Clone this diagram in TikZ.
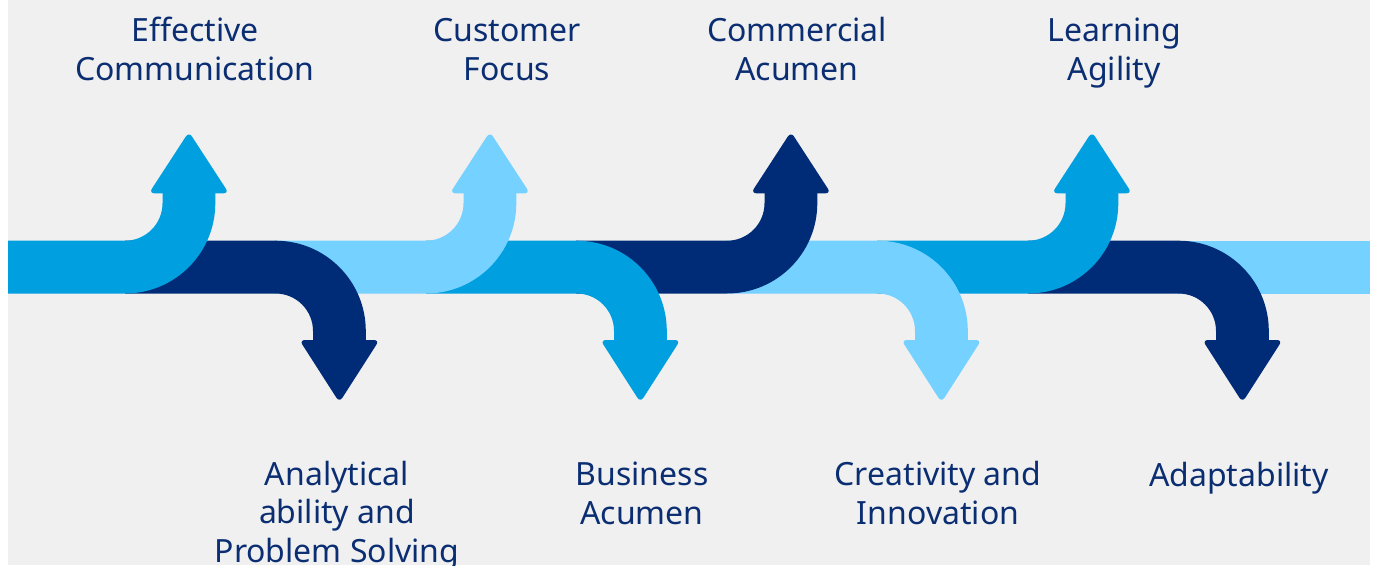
\documentclass[tikz,border=0pt]{standalone}
\usepackage{fontspec}
\setmainfont{Noto Sans}

\definecolor{navy}{HTML}{002C77}
\definecolor{midblue}{HTML}{009FE0}
\definecolor{skyblue}{HTML}{75D1FF}
\definecolor{panel}{HTML}{F0F0F0}
\definecolor{labelc}{HTML}{0B2E73}

% band edges and bend radii (pixel units, y grows downward)
\def\bandtop{240.7}
\def\bandbot{293.5}
\def\rin{37.5}
\def\rout{90.3}

% a band piece that bends upward into an arrow: colour, start x, bend x
\newcommand\upturn[3]{%
  \pgfmathsetmacro\xa{#3+\rin}%
  \pgfmathsetmacro\xb{#3+\rout}%
  \pgfmathsetmacro\xm{#3+63.9}%
  \pgfmathsetmacro\hl{#3+23.9}%
  \pgfmathsetmacro\hr{#3+103.9}%
  \fill[#1] (#2,\bandbot) -- (#2,\bandtop) -- (#3,\bandtop)
    arc[start angle=90,end angle=0,radius=\rin] -- (\xa,190) -- (\xb,190)
    -- (\xb,203.2) arc[start angle=0,end angle=90,radius=\rout] -- cycle;
  \fill[#1,rounded corners=5.5pt] (\hl,193.3) -- (\xm,131.8) -- (\hr,193.3) -- cycle;
}

% a band piece that bends downward into an arrow: colour, start x, bend x
\newcommand\downturn[3]{%
  \pgfmathsetmacro\xa{#3+\rin}%
  \pgfmathsetmacro\xb{#3+\rout}%
  \pgfmathsetmacro\xm{#3+63.9}%
  \pgfmathsetmacro\hl{#3+23.9}%
  \pgfmathsetmacro\hr{#3+103.9}%
  \fill[#1] (#2,\bandtop) -- (#3,\bandtop)
    arc[start angle=270,end angle=360,radius=\rout] -- (\xb,343) -- (\xa,343)
    -- (\xa,331) arc[start angle=0,end angle=-90,radius=\rin] -- (#2,\bandbot) -- cycle;
  \fill[#1,rounded corners=5.5pt] (\hl,340) -- (\xm,402.4) -- (\hr,340) -- cycle;
}

% labels are placed by the baseline of their last line
\tikzset{
  lbl/.style={text=labelc, align=center, anchor=base, inner sep=0pt,
    font=\fontsize{32}{38.5}\selectfont}
}

\begin{document}
\begin{tikzpicture}[x=1pt,y=-1pt]
  \useasboundingbox (0,0) rectangle (1375,565);
  \fill[white] (0,0) rectangle (1375,565);
  \fill[panel] (8,0) rectangle (1370,565);

  % pieces drawn right to left so each one lies over the next
  \fill[skyblue] (1178,\bandtop) rectangle (1370,\bandbot);
  \downturn{navy}{1028}{1178.5}
  \upturn{midblue}{877}{1028}
  \downturn{skyblue}{727}{877.5}
  \upturn{navy}{576}{727}
  \downturn{midblue}{426}{576.5}
  \upturn{skyblue}{275}{426}
  \downturn{navy}{125}{275.5}
  \upturn{midblue}{8}{125}

  % labels above the upward arrows
  \node[lbl] (effcomm) at (195,80) {Effective\\Communication};
  \node[lbl] (custfocus) at (507,80) {Customer\\Focus};
  \node[lbl] (commacumen) at (797,80) {Commercial\\Acumen};
  \node[lbl] (learnagility) at (1114,80) {Learning\\Agility};

  % labels below the downward arrows
  \node[lbl] (analytical) at (337,562) {Analytical\\ability and\\Problem Solving};
  \node[lbl] (busacumen) at (642,524) {Business\\Acumen};
  \node[lbl] (creativity) at (938,524) {Creativity and\\Innovation};
  \node[lbl] (adapt) at (1239,486) {Adaptability};
\end{tikzpicture}
\end{document}
